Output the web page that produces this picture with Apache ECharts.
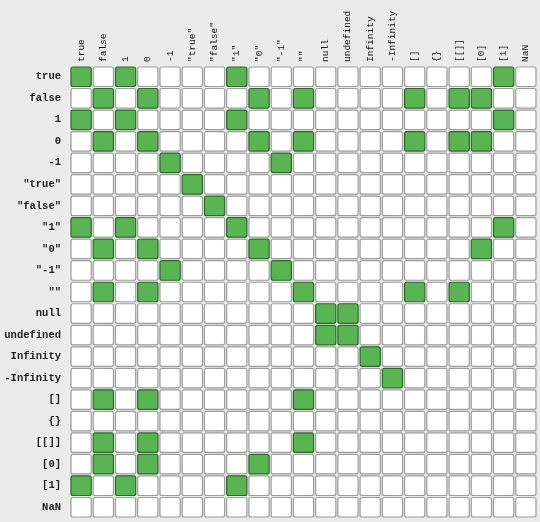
<!DOCTYPE html>
<html>
<head>
<meta charset="utf-8">
<script src="https://cdn.jsdelivr.net/npm/echarts@6/dist/echarts.min.js"></script>
<style>
html,body{margin:0;padding:0;background:#ebebeb;}
#chart{width:540px;height:522px;}
</style>
</head>
<body>
<div id="chart"></div>
<script>
var labels = ['true','false','1','0','-1','"true"','"false"','"1"','"0"','"-1"','""','null','undefined','Infinity','-Infinity','[]','{}','[[]]','[0]','[1]','NaN'];

// 1 = loosely equal (==), rows and columns follow `labels`
var equalRows = [
  [1,0,1,0,0,0,0,1,0,0,0,0,0,0,0,0,0,0,0,1,0], // true
  [0,1,0,1,0,0,0,0,1,0,1,0,0,0,0,1,0,1,1,0,0], // false
  [1,0,1,0,0,0,0,1,0,0,0,0,0,0,0,0,0,0,0,1,0], // 1
  [0,1,0,1,0,0,0,0,1,0,1,0,0,0,0,1,0,1,1,0,0], // 0
  [0,0,0,0,1,0,0,0,0,1,0,0,0,0,0,0,0,0,0,0,0], // -1
  [0,0,0,0,0,1,0,0,0,0,0,0,0,0,0,0,0,0,0,0,0], // "true"
  [0,0,0,0,0,0,1,0,0,0,0,0,0,0,0,0,0,0,0,0,0], // "false"
  [1,0,1,0,0,0,0,1,0,0,0,0,0,0,0,0,0,0,0,1,0], // "1"
  [0,1,0,1,0,0,0,0,1,0,0,0,0,0,0,0,0,0,1,0,0], // "0"
  [0,0,0,0,1,0,0,0,0,1,0,0,0,0,0,0,0,0,0,0,0], // "-1"
  [0,1,0,1,0,0,0,0,0,0,1,0,0,0,0,1,0,1,0,0,0], // ""
  [0,0,0,0,0,0,0,0,0,0,0,1,1,0,0,0,0,0,0,0,0], // null
  [0,0,0,0,0,0,0,0,0,0,0,1,1,0,0,0,0,0,0,0,0], // undefined
  [0,0,0,0,0,0,0,0,0,0,0,0,0,1,0,0,0,0,0,0,0], // Infinity
  [0,0,0,0,0,0,0,0,0,0,0,0,0,0,1,0,0,0,0,0,0], // -Infinity
  [0,1,0,1,0,0,0,0,0,0,1,0,0,0,0,0,0,0,0,0,0], // []
  [0,0,0,0,0,0,0,0,0,0,0,0,0,0,0,0,0,0,0,0,0], // {}
  [0,1,0,1,0,0,0,0,0,0,1,0,0,0,0,0,0,0,0,0,0], // [[]]
  [0,1,0,1,0,0,0,0,1,0,0,0,0,0,0,0,0,0,0,0,0], // [0]
  [1,0,1,0,0,0,0,1,0,0,0,0,0,0,0,0,0,0,0,0,0], // [1]
  [0,0,0,0,0,0,0,0,0,0,0,0,0,0,0,0,0,0,0,0,0]  // NaN
];

var cells = [];
equalRows.forEach(function(row, r){
  row.forEach(function(v, c){ cells.push([c, r, v]); });
});

var chart = echarts.init(document.getElementById('chart'));
chart.setOption({
  backgroundColor: '#ebebeb',
  animation: false,
  grid: {left: 70, right: 3, top: 66, bottom: 4},
  xAxis: {
    type: 'category', position: 'top', data: labels,
    axisLine: {show: false}, axisTick: {show: false}, splitLine: {show: false},
    axisLabel: {interval: 0, rotate: -90, margin: 4, fontFamily: 'Liberation Mono', fontSize: 9.5, color: '#111'}
  },
  yAxis: {
    type: 'category', inverse: true, data: labels,
    axisLine: {show: false}, axisTick: {show: false}, splitLine: {show: false},
    axisLabel: {interval: 0, margin: 9, fontFamily: 'Liberation Mono', fontWeight: 'bold', fontSize: 10.5, color: '#222'}
  },
  series: [{
    type: 'custom',
    data: cells,
    renderItem: function(params, api){
      var p = api.coord([api.value(0), api.value(1)]);
      var s = api.size([1, 1]);
      var w = s[0] - 2, h = s[1] - 2;
      var on = api.value(2) === 1;
      return {
        type: 'rect',
        shape: {x: p[0] - w/2, y: p[1] - h/2, width: w, height: h, r: 2},
        style: on ? {fill: '#58b552', stroke: '#2b6a27', lineWidth: 1.2}
                  : {fill: '#ffffff', stroke: '#9c9c9c', lineWidth: 1.2}
      };
    }
  }]
});
</script>
</body>
</html>
